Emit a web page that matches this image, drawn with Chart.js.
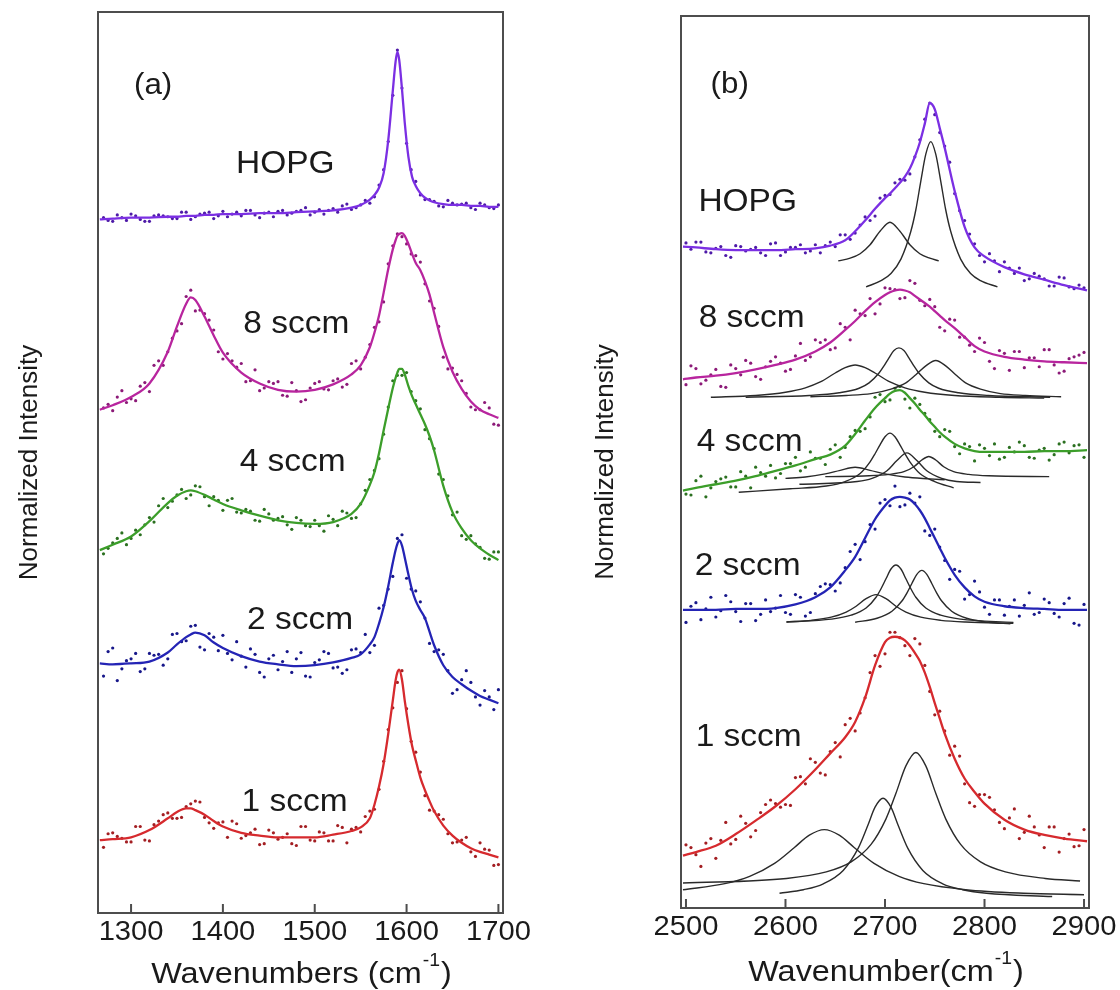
<!DOCTYPE html>
<html>
<head>
<meta charset="utf-8">
<title>Raman spectra</title>
<script src="https://cdn.jsdelivr.net/npm/chart.js@4.4.0/dist/chart.umd.min.js"></script>
<style>
	body { margin: 0; background: #fff; }
	#wrap { position: relative; width: 1120px; height: 990px; }
	#wrap canvas { position: absolute; top: 0; }
	#chartA { left: 0; }
	#chartB { left: 560px; }
</style>
</head>
<body>
<div id="wrap">
	<canvas id="chartA" width="560" height="990"></canvas>
	<canvas id="chartB" width="560" height="990"></canvas>
</div>
<script>
//---------------- (a) D and G band region ----------------
const tickLabelsA = [1300, 1400, 1500, 1600, 1700];
const waveA = [1266,1280,1300,1320,1340,1350,1360,1365,1370,1380,1390,1400,1420,1440,1460,1480,1500,1520,1540,1550,1560,1565,1570,1575,1580,1585,1588,1590,1592,1595,1598,1602,1606,1610,1615,1620,1625,1630,1640,1650,1660,1670,1680,1690,1700];
//fitted curves, stacked normalized intensity
const fitHopgA = [77.1,77.2,77.3,77.3,77.4,77.4,77.5,77.5,77.5,77.6,77.6,77.7,77.7,77.8,77.8,77.9,78.0,78.1,78.4,78.7,79.3,79.8,80.6,82.2,85.8,91.3,94.5,95.6,94.7,91.5,87.8,84.0,81.8,80.8,80.0,79.5,79.2,79.0,78.8,78.7,78.7,78.6,78.6,78.5,78.5];
const fit8A = [56.1,56.6,57.5,59.0,62.5,65.3,67.8,68.5,68.2,66.4,64.3,62.4,60.2,59.0,58.3,58.1,58.3,58.9,60.0,61.0,63.0,64.6,66.5,69.0,71.6,73.8,74.8,75.3,75.5,75.6,75.3,74.4,73.3,72.3,71.5,70.3,68.8,66.8,63.0,60.3,58.4,57.0,56.1,55.6,55.2];
const fit4A = [40.6,41.2,42.1,43.8,45.8,46.6,47.1,47.2,47.1,46.7,46.2,45.7,45.0,44.4,43.9,43.6,43.5,43.7,44.6,45.7,47.8,49.2,51.3,53.8,56.2,58.5,59.6,60.2,60.6,60.6,60.0,58.7,57.6,56.7,55.6,54.5,53.2,51.6,47.7,44.8,43.0,41.7,40.8,40.1,39.5];
const fit2A = [28.1,28.0,28.1,28.3,29.3,30.2,31.0,31.3,31.5,31.2,30.4,29.8,28.9,28.3,28.0,27.8,27.9,28.2,28.7,29.1,30.2,31.0,32.5,34.3,36.6,39.2,40.6,41.3,41.7,41.1,39.8,37.9,36.2,35.0,34.0,33.1,31.6,30.1,27.9,26.6,25.8,25.1,24.5,24.1,23.7];
const fit1A = [8.6,8.7,8.9,9.7,11.0,11.7,12.1,12.1,11.9,11.4,10.7,10.1,9.4,9.1,8.9,8.9,8.9,9.2,9.6,10.0,11.0,12.5,14.5,17.0,20.3,24.0,26.2,27.1,27.4,26.3,24.0,21.3,19.0,17.4,15.5,14.1,12.9,11.8,10.2,9.1,8.3,7.7,7.3,7.0,6.7];
//measured points, two interleaved sweeps
const dotWaveA = [1270,1280,1290,1300,1310,1320,1330,1340,1350,1360,1370,1380,1390,1400,1410,1420,1430,1440,1450,1460,1470,1480,1490,1500,1510,1520,1530,1540,1550,1560,1570,1580,1590,1600,1610,1620,1630,1640,1650,1660,1670,1680,1690,1700];
const dotHopgA = [77.3,76.9,77.3,77.7,77.1,76.9,77.6,77.4,77.2,77.9,77.4,77.8,77.2,78.0,77.7,77.5,78.1,77.3,77.9,78.0,77.6,78.0,78.4,77.9,77.7,78.3,78.6,78.2,78.7,78.9,80.9,85.7,95.8,85.5,81.3,79.3,79.1,78.5,78.9,78.8,78.4,78.9,78.4,78.7];
const dot8A = [56.3,56.0,58.2,57.3,58.7,58.1,61.5,62.5,64.8,68.6,67.0,66.7,64.9,61.7,61.5,61.2,59.3,58.2,59.2,59.2,57.6,58.2,57.2,59.0,58.4,59.3,58.6,61.2,60.6,63.3,65.8,72.2,75.5,74.4,73.1,70.0,67.3,61.9,60.7,59.3,56.4,56.1,56.3,54.4];
const dot4A = [40.2,41.4,42.5,41.9,42.3,44.2,45.5,45.3,46.7,46.3,47.7,46.5,46.5,45.0,46.3,44.7,44.9,43.8,44.6,44.1,43.4,44.2,43.3,43.9,42.7,44.0,44.9,44.1,45.7,48.4,50.7,56.4,59.9,60.2,57.1,53.9,51.8,48.4,44.5,42.2,42.2,40.9,39.6,40.4];
const dot2A = [26.7,29.8,27.5,28.6,27.2,29.2,29.1,28.6,31.4,30.6,32.3,29.6,31.0,31.2,28.5,28.9,29.7,27.1,28.6,27.4,29.4,28.6,26.7,28.2,29.4,27.6,27.0,29.6,29.3,29.3,34.2,36.3,41.9,37.5,36.1,33.1,29.4,29.1,24.8,26.3,26.0,23.5,24.4,25.2];
const dot1A = [7.8,9.4,8.8,8.4,10.1,8.5,10.7,11.6,11.0,12.3,12.9,11.1,9.9,10.6,10.7,8.8,9.4,8.1,9.7,8.7,9.3,8.0,10.1,8.5,9.4,8.5,10.0,9.8,9.5,11.8,14.2,20.8,26.0,23.1,18.3,13.5,11.8,10.9,8.3,8.6,7.3,8.3,7.5,5.9];
const midWaveA = [1275,1285,1295,1305,1315,1325,1335,1345,1355,1365,1375,1385,1395,1405,1415,1425,1435,1445,1455,1465,1475,1485,1495,1505,1515,1525,1535,1545,1555,1565,1575,1585,1595,1605,1615,1625,1635,1645,1655,1665,1675,1685,1695];
const midHopgA = [77.0,77.6,77.0,77.5,76.9,77.5,77.5,77.2,77.9,77.1,77.7,77.9,77.5,77.4,77.9,78.1,77.6,77.8,77.4,78.1,77.8,78.1,77.6,78.2,78.1,77.9,78.8,78.4,79.2,79.6,82.6,90.8,91.6,82.6,79.8,79.3,78.6,79.2,78.7,78.9,78.2,78.7,78.3];
const mid8A = [56.7,57.5,56.9,57.1,59.1,61.0,61.0,64.0,65.6,69.3,67.1,66.0,62.5,62.3,60.8,59.2,60.5,58.5,59.0,57.7,59.1,57.0,58.5,59.2,58.3,59.5,58.9,61.5,61.9,65.2,68.0,74.2,75.2,73.3,72.4,68.1,65.3,60.6,60.0,57.9,56.1,56.9,54.5];
const mid4A = [40.8,41.9,41.2,42.8,43.4,43.7,46.3,46.0,47.3,46.7,47.6,45.5,46.1,46.1,44.8,45.1,43.9,45.1,43.9,44.3,42.9,43.9,43.2,43.3,44.4,43.3,44.7,44.2,47.2,49.4,53.4,59.3,59.9,58.1,56.2,52.9,49.0,46.6,44.8,41.8,41.3,39.7,40.4];
const mid2A = [29.4,26.2,28.4,29.2,27.5,29.0,27.9,31.3,30.5,32.2,29.9,31.4,29.5,29.2,30.5,27.7,29.1,26.6,29.0,28.3,27.1,29.3,26.6,28.5,29.2,27.7,27.4,29.7,31.3,30.1,34.5,37.7,42.3,36.3,34.9,30.3,29.6,27.3,25.2,27.3,24.4,25.1,23.0];
const mid1A = [9.3,9.0,8.4,10.1,8.6,10.3,11.4,11.0,11.1,12.6,12.8,10.5,10.5,8.9,10.4,9.1,9.8,8.2,9.4,8.9,8.2,10.1,8.6,9.5,8.5,10.2,8.3,10.0,11.2,12.0,17.3,23.2,27.3,19.5,16.1,11.9,11.4,9.3,8.4,8.9,6.8,7.6,5.8];

//---------------- (b) 2D band region ----------------
const tickLabelsB = [2500, 2600, 2700, 2800, 2900];
const waveB = [2497,2510,2530,2550,2570,2590,2610,2630,2645,2660,2670,2680,2690,2700,2705,2710,2715,2720,2725,2730,2735,2740,2745,2750,2755,2760,2770,2780,2790,2800,2820,2840,2860,2880,2903];
const fitHopgB = [74.3,74.2,74.0,73.9,73.9,73.9,74.0,74.1,74.4,75.0,76.0,77.2,78.5,79.7,80.2,80.8,81.4,82.1,83.0,84.3,85.9,88.0,90.3,89.6,87.5,85.3,80.5,76.5,74.2,73.2,72.0,71.2,70.6,70.0,69.4];
const fit8B = [59.5,59.7,59.9,60.2,60.6,61.1,61.7,62.6,63.6,65.0,66.0,67.1,68.1,68.9,69.2,69.4,69.5,69.4,69.2,68.8,68.4,68.0,67.6,67.1,66.6,66.1,65.2,64.2,63.2,62.6,62.0,61.7,61.5,61.4,61.3];
const fit4B = [47.1,47.4,47.8,48.2,48.7,49.3,49.9,50.6,51.1,52.1,53.4,54.9,56.3,57.4,57.9,58.2,58.3,58.0,57.4,56.8,56.1,55.5,54.8,54.2,53.6,53.1,52.3,51.8,51.5,51.4,51.4,51.4,51.5,51.5,51.6];
const fit2B = [33.8,33.8,33.8,33.9,33.9,34.0,34.4,35.2,36.3,38.2,39.7,41.8,43.9,45.4,46.0,46.3,46.4,46.3,46.1,45.6,44.9,44.0,42.9,41.8,40.7,39.6,37.7,36.3,35.3,34.7,34.2,34.0,33.9,33.8,33.8];
const fit1B = [6.4,6.8,7.5,8.8,10.3,11.9,13.8,16.0,17.8,19.6,21.3,24.0,27.6,30.2,30.7,30.8,30.7,30.4,29.8,29.0,28.1,26.8,25.2,23.4,21.7,20.0,17.2,15.0,13.5,12.2,10.4,9.3,8.7,8.3,8.0];
const dotWaveB = [2500,2510,2520,2530,2540,2550,2560,2570,2580,2590,2600,2610,2620,2630,2640,2650,2660,2670,2680,2690,2700,2710,2720,2730,2740,2750,2760,2770,2780,2790,2800,2810,2820,2830,2840,2850,2860,2870,2880,2890,2900];
const dotHopgB = [74.7,74.8,73.7,74.1,73.3,74.4,73.8,74.2,73.3,74.7,73.7,74.2,73.6,74.5,74.4,74.3,75.6,75.8,77.6,77.7,80.0,81.4,81.7,84.3,88.5,89.0,85.5,80.2,77.2,74.6,72.6,72.7,72.6,71.3,70.5,71.3,70.7,69.9,70.8,69.6,69.7];
const dot8B = [58.9,60.7,59.4,60.6,58.6,60.7,61.6,59.8,60.9,62.0,60.4,62.1,61.6,63.9,63.9,63.0,65.3,67.2,66.6,66.8,69.7,69.5,68.6,70.2,67.7,67.6,64.9,66.1,64.2,62.6,63.6,60.7,62.4,62.6,60.8,61.9,62.8,61.1,60.4,62.0,62.5];
const dot4B = [46.7,48.2,46.4,48.1,48.6,47.5,48.7,49.7,48.7,48.5,50.1,50.8,49.7,50.7,50.0,52.2,51.9,53.8,54.0,57.5,57.0,58.5,57.3,57.4,55.7,53.7,53.9,52.0,52.3,50.4,51.8,52.3,50.8,51.4,52.1,50.7,51.8,51.1,52.5,52.1,50.8];
const dot2B = [32.4,34.6,33.9,33.0,35.4,33.6,34.5,32.6,34.9,34.0,33.5,35.5,33.1,35.6,36.7,35.9,38.5,41.1,41.4,42.8,46.1,47.6,45.5,45.7,42.6,42.8,39.3,38.3,35.0,37.0,34.1,34.9,33.2,34.9,34.3,33.3,35.0,33.4,34.5,32.3,34.4];
const dot1B = [7.6,6.5,7.8,6.1,10.1,8.2,10.0,9.2,12.1,12.2,12.1,15.1,14.4,16.8,15.4,19.0,21.0,20.3,24.0,28.7,28.9,31.3,29.8,30.6,27.6,22.1,20.3,18.6,14.4,11.9,13.2,11.5,9.4,11.6,9.0,9.6,7.3,9.6,8.3,7.4,9.3];
const midWaveB = [2505,2515,2525,2535,2545,2555,2565,2575,2585,2595,2605,2615,2625,2635,2645,2655,2665,2675,2685,2695,2705,2715,2725,2735,2745,2755,2765,2775,2785,2795,2805,2815,2825,2835,2845,2855,2865,2875,2885,2895];
const midHopgB = [74.0,74.8,73.6,74.3,73.1,74.3,74.0,73.6,74.6,73.3,74.2,74.5,73.8,73.6,74.8,75.6,75.1,76.7,77.2,79.7,80.1,81.8,82.4,86.2,90.3,87.0,83.7,78.3,75.7,73.3,73.5,71.5,71.9,71.9,70.7,71.0,69.9,70.9,69.8,70.0];
const mid8B = [61.0,59.0,60.0,58.7,61.1,60.0,61.3,59.5,61.5,61.3,60.6,63.5,62.0,63.6,62.8,65.7,63.9,66.8,68.5,67.9,69.6,68.5,70.5,68.3,68.4,65.3,66.2,64.2,63.3,64.1,61.5,62.7,60.5,62.6,61.9,60.9,62.8,60.2,61.8,62.2];
const mid4B = [46.6,48.7,47.4,48.4,47.5,49.2,47.4,49.1,49.9,49.0,50.1,49.3,51.4,50.7,51.7,50.8,53.1,53.7,55.3,57.8,57.2,58.7,56.3,56.7,55.0,53.1,53.7,51.2,52.0,52.2,51.0,50.6,51.9,52.5,50.8,51.6,50.5,52.3,51.3,52.2];
const mid2B = [34.2,32.7,35.2,33.7,34.7,32.5,34.5,33.3,33.6,35.4,33.3,35.2,33.5,36.4,36.6,36.8,40.3,39.4,43.3,45.7,45.4,45.3,46.8,46.4,42.1,40.8,37.2,38.1,35.5,35.8,33.3,34.9,34.2,33.1,35.7,33.5,34.6,33.0,35.1,32.1];
const mid1B = [7.3,5.2,8.3,8.1,7.7,10.8,8.5,11.2,12.6,11.8,12.0,15.2,17.2,15.6,18.0,17.4,21.7,22.3,26.8,27.5,31.3,30.7,28.7,30.0,24.7,22.5,17.6,17.5,12.3,13.2,12.9,10.1,10.6,8.3,10.8,8.7,9.6,6.8,8.8,7.5];

//lorentzian components of the 2D band, [wavenumber, intensity]
const hopgBand1 = [[2653,72.7],[2665,73.0],[2675,73.5],[2685,74.5],[2695,76.0],[2705,77.0],[2715,76.0],[2725,74.5],[2735,73.5],[2745,73.0],[2754,72.7]];
const hopgBand2 = [[2681,69.8],[2696,70.5],[2706,71.3],[2716,72.9],[2726,76.0],[2731,78.4],[2736,81.6],[2741,84.6],[2746,86.0],[2751,84.6],[2756,81.6],[2761,78.4],[2766,76.0],[2776,72.9],[2786,71.3],[2796,70.5],[2813,69.8]];
const sccm8Band1 = [[2525,57.5],[2570,57.7],[2600,58.06],[2620,58.55],[2635,59.2],[2650,60.2],[2660,60.8],[2670,61.1],[2680,60.8],[2690,60.2],[2705,59.2],[2720,58.55],[2740,58.06],[2770,57.7],[2815,57.5],[2860,57.4]];
const sccm8Band2 = [[2560,57.5],[2624,57.7],[2654,58.0],[2674,58.5],[2684,59.1],[2694,60.2],[2699,61.0],[2704,61.9],[2709,62.7],[2714,63.0],[2719,62.7],[2724,61.9],[2729,61.0],[2734,60.2],[2744,59.1],[2754,58.5],[2774,58.0],[2804,57.7],[2866,57.5]];
const sccm8Band3 = [[2625,57.55],[2661,57.7],[2686,57.9],[2706,58.4],[2721,59.1],[2731,60.0],[2741,61.0],[2751,61.6],[2761,61.0],[2771,60.0],[2781,59.1],[2796,58.4],[2816,57.9],[2841,57.7],[2877,57.55]];
const sccm4Band1 = [[2553,46.9],[2605,47.3],[2641,47.6],[2660,48.1],[2675,49.0],[2685,50.3],[2690,51.2],[2695,52.2],[2700,53.1],[2705,53.5],[2710,53.1],[2715,52.2],[2720,51.2],[2725,50.3],[2735,49.0],[2750,48.1],[2769,47.4]];
const sccm4Band2 = [[2600,48.45],[2620,48.6],[2640,48.95],[2655,49.35],[2670,49.7],[2685,49.35],[2700,48.95],[2720,48.6],[2745,48.4],[2760,48.3]];
const sccm4Band3 = [[2614,47.8],[2672,48.1],[2687,48.45],[2702,49.3],[2712,50.45],[2722,51.3],[2732,50.45],[2742,49.3],[2757,48.45],[2772,48.1],[2796,48.0]];
const sccm4Band4 = [[2640,48.65],[2684,48.74],[2704,48.9],[2719,49.2],[2729,49.75],[2737,50.5],[2744,50.9],[2751,50.5],[2759,49.75],[2769,49.2],[2784,48.9],[2804,48.74],[2865,48.65]];
const sccm2Band1 = [[2601,32.45],[2646,32.76],[2666,33.2],[2681,34.0],[2691,35.2],[2696,36.15],[2701,37.26],[2706,38.35],[2711,38.8],[2716,38.35],[2721,37.26],[2726,36.15],[2731,35.2],[2741,34.0],[2756,33.2],[2776,32.76],[2829,32.4]];
const sccm2Band2 = [[2670,32.42],[2692,32.86],[2707,33.64],[2717,34.78],[2722,35.67],[2727,36.73],[2732,37.76],[2737,38.2],[2742,37.76],[2747,36.73],[2752,35.67],[2757,34.78],[2767,33.64],[2782,32.86],[2804,32.42],[2826,32.24]];
const sccm2Band3 = [[2601,32.44],[2626,32.63],[2646,32.98],[2661,33.55],[2671,34.2],[2681,35.04],[2691,35.5],[2701,35.04],[2711,34.2],[2721,33.55],[2736,32.98],[2756,32.63],[2781,32.44],[2829,32.3]];
const sccm1Band1 = [[2497,2.6],[2539,3.27],[2564,4.09],[2589,5.54],[2609,7.31],[2624,8.68],[2639,9.3],[2654,8.68],[2669,7.31],[2689,5.54],[2714,4.09],[2739,3.27],[2781,2.6],[2839,2.21],[2900,2.04]];
const sccm1Band2 = [[2594,2.2],[2618,2.6],[2638,3.26],[2658,4.75],[2673,7.2],[2683,9.84],[2690,11.8],[2698,12.8],[2706,11.8],[2713,9.84],[2723,7.2],[2738,4.75],[2758,3.26],[2778,2.6],[2802,2.2],[2868,1.84]];
const sccm1Band3 = [[2497,3.34],[2601,3.85],[2641,4.58],[2666,5.7],[2686,7.65],[2701,10.5],[2711,13.35],[2721,16.4],[2731,17.9],[2741,16.4],[2751,13.35],[2761,10.5],[2776,7.65],[2796,5.7],[2821,4.58],[2861,3.85],[2896,3.57]];

//line colours and darker point colours per sample
const lineCol = { hopg: '#7b2fe3', s8: '#b8259e', s4: '#3c9e2a', s2: '#2424b5', s1: '#d62a2e' };
const dotCol = { hopg: '#4e1aa8', s8: '#8c1a78', s4: '#2b7020', s2: '#17178a', s1: '#a31e22' };
const FONT = '"Liberation Sans", Arial, sans-serif';
const STRETCH = 1.08; //lettering in the figure is a little wide

var toPoints = function(xs, ys) {
	return xs.map(function(x, i) { return { x: x, y: ys[i] }; });
}

var lineSet = function(xs, ys, colour) {
	return { data: toPoints(xs, ys), borderColor: colour, borderWidth: 2.3, pointRadius: 0,
		cubicInterpolationMode: 'monotone', fill: false, order: 1 };
}

var dotSet = function(xs, ys, colour) {
	return { data: toPoints(xs, ys), showLine: false, pointRadius: 1.6, pointBorderWidth: 0,
		pointBackgroundColor: colour, order: 3 };
}

var bandSet = function(pairs) {
	return { data: pairs, borderColor: '#2a2a2a', borderWidth: 1.4, pointRadius: 0,
		cubicInterpolationMode: 'monotone', fill: false, order: 2 };
}

//writes text widened by STRETCH around its anchor
var wideText = function(ctx, text, x, y) {
	ctx.save();
	ctx.translate(x, y);
	ctx.scale(STRETCH, 1);
	ctx.fillText(text, 0, 0);
	ctx.restore();
}

//frame, inward ticks, tick labels, sample names and axis titles
const framePlugin = {
	id: 'frame',
	afterDraw: function(chart, args, opts) {
		const ctx = chart.ctx;
		const a = chart.chartArea;
		const sx = chart.scales.x, sy = chart.scales.y;
		ctx.save();
		ctx.strokeStyle = '#4d4d4d';
		ctx.lineWidth = 2;
		ctx.strokeRect(a.left, a.top, a.right - a.left, a.bottom - a.top);
		ctx.beginPath();
		sx.ticks.forEach(function(t) {
			const px = sx.getPixelForValue(t.value);
			ctx.moveTo(px, a.bottom);
			ctx.lineTo(px, a.bottom - 9);
		});
		ctx.stroke();

		ctx.fillStyle = '#1a1a1a';
		ctx.textAlign = 'center';
		ctx.textBaseline = 'middle';
		ctx.font = '27px ' + FONT;
		sx.ticks.forEach(function(t) {
			wideText(ctx, String(t.value), sx.getPixelForValue(t.value), a.bottom + 20);
		});

		opts.labels.forEach(function(l) {
			ctx.font = l.size + 'px ' + FONT;
			wideText(ctx, l.text, sx.getPixelForValue(l.x), sy.getPixelForValue(l.y));
		});

		//x title with the superscript -1
		const t = opts.xTitle;
		const big = '30px ' + FONT, small = '18px ' + FONT;
		ctx.font = big;
		const w1 = ctx.measureText(t.main).width * STRETCH, w3 = ctx.measureText(t.tail).width * STRETCH;
		ctx.font = small;
		const w2 = ctx.measureText(t.sup).width * STRETCH;
		const x0 = (a.left + a.right) / 2 - (w1 + w2 + w3) / 2;
		ctx.textAlign = 'left';
		ctx.font = big;
		wideText(ctx, t.main, x0, t.y);
		ctx.font = small;
		wideText(ctx, t.sup, x0 + w1 + 1, t.y - 14);
		ctx.font = big;
		wideText(ctx, t.tail, x0 + w1 + w2 + 2, t.y);

		//rotated y title
		ctx.translate(a.left - opts.yTitleGap, (a.top + a.bottom) / 2);
		ctx.rotate(-Math.PI / 2);
		ctx.textAlign = 'center';
		ctx.font = '26px ' + FONT;
		ctx.fillText('Normalized Intensity', 0, 0);
		ctx.restore();
	}
};

var createPanel = function(canvas, p) {
	return new Chart(canvas, {
		type: 'line',
		data: { datasets: p.datasets },
		options: {
			responsive: false,
			animation: false,
			devicePixelRatio: 1,
			layout: { padding: { left: p.padLeft, right: p.padRight, top: p.padTop, bottom: 0 } },
			plugins: {
				legend: { display: false },
				tooltip: { enabled: false },
				frame: { labels: p.labels, xTitle: p.xTitle, yTitleGap: p.yTitleGap }
			},
			scales: {
				x: {
					type: 'linear', min: p.min, max: p.max,
					grid: { display: false, drawTicks: false },
					border: { display: false },
					ticks: { display: false },
					afterBuildTicks: function(s) { s.ticks = p.ticks.map(function(v) { return { value: v }; }); },
					afterFit: function(s) { s.height = p.axisHeight; }
				},
				y: { type: 'linear', display: false, min: p.yMin, max: 100 }
			}
		},
		plugins: [framePlugin]
	});
}

createPanel(document.getElementById('chartA'), {
	min: 1264, max: 1705, ticks: tickLabelsA, yMin: 0.55,
	padLeft: 98, padRight: 57, padTop: 12, axisHeight: 77, yTitleGap: 68,
	xTitle: { main: 'Wavenumbers (cm', sup: '-1', tail: ')', y: 975 },
	labels: [
		{ text: '(a)', x: 1324, y: 91.8, size: 29 },
		{ text: 'HOPG', x: 1468, y: 83.2, size: 31 },
		{ text: '8 sccm', x: 1480, y: 65.5, size: 31 },
		{ text: '4 sccm', x: 1476, y: 50.3, size: 31 },
		{ text: '2 sccm', x: 1484, y: 32.8, size: 31 },
		{ text: '1 sccm', x: 1478, y: 12.7, size: 31 }
	],
	datasets: [
		dotSet(dotWaveA, dotHopgA, dotCol.hopg), dotSet(midWaveA, midHopgA, dotCol.hopg), lineSet(waveA, fitHopgA, lineCol.hopg),
		dotSet(dotWaveA, dot8A, dotCol.s8), dotSet(midWaveA, mid8A, dotCol.s8), lineSet(waveA, fit8A, lineCol.s8),
		dotSet(dotWaveA, dot4A, dotCol.s4), dotSet(midWaveA, mid4A, dotCol.s4), lineSet(waveA, fit4A, lineCol.s4),
		dotSet(dotWaveA, dot2A, dotCol.s2), dotSet(midWaveA, mid2A, dotCol.s2), lineSet(waveA, fit2A, lineCol.s2),
		dotSet(dotWaveA, dot1A, dotCol.s1), dotSet(midWaveA, mid1A, dotCol.s1), lineSet(waveA, fit1A, lineCol.s1)
	]
});

createPanel(document.getElementById('chartB'), {
	min: 2495, max: 2905, ticks: tickLabelsB, yMin: 0.56,
	padLeft: 121, padRight: 31, padTop: 16, axisHeight: 82, yTitleGap: 75,
	xTitle: { main: 'Wavenumber(cm', sup: '-1', tail: ')', y: 973 },
	labels: [
		{ text: '(b)', x: 2544, y: 92.3, size: 29 },
		{ text: 'HOPG', x: 2562, y: 79.2, size: 31 },
		{ text: '8 sccm', x: 2566, y: 66.3, size: 31 },
		{ text: '4 sccm', x: 2564, y: 52.5, size: 31 },
		{ text: '2 sccm', x: 2562, y: 38.6, size: 31 },
		{ text: '1 sccm', x: 2563, y: 19.6, size: 31 }
	],
	datasets: [
		dotSet(dotWaveB, dotHopgB, dotCol.hopg), dotSet(midWaveB, midHopgB, dotCol.hopg), lineSet(waveB, fitHopgB, lineCol.hopg),
		bandSet(hopgBand1), bandSet(hopgBand2),
		dotSet(dotWaveB, dot8B, dotCol.s8), dotSet(midWaveB, mid8B, dotCol.s8), lineSet(waveB, fit8B, lineCol.s8),
		bandSet(sccm8Band1), bandSet(sccm8Band2), bandSet(sccm8Band3),
		dotSet(dotWaveB, dot4B, dotCol.s4), dotSet(midWaveB, mid4B, dotCol.s4), lineSet(waveB, fit4B, lineCol.s4),
		bandSet(sccm4Band1), bandSet(sccm4Band2), bandSet(sccm4Band3), bandSet(sccm4Band4),
		dotSet(dotWaveB, dot2B, dotCol.s2), dotSet(midWaveB, mid2B, dotCol.s2), lineSet(waveB, fit2B, lineCol.s2),
		bandSet(sccm2Band1), bandSet(sccm2Band2), bandSet(sccm2Band3),
		dotSet(dotWaveB, dot1B, dotCol.s1), dotSet(midWaveB, mid1B, dotCol.s1), lineSet(waveB, fit1B, lineCol.s1),
		bandSet(sccm1Band1), bandSet(sccm1Band2), bandSet(sccm1Band3)
	]
});
</script>
</body>
</html>
